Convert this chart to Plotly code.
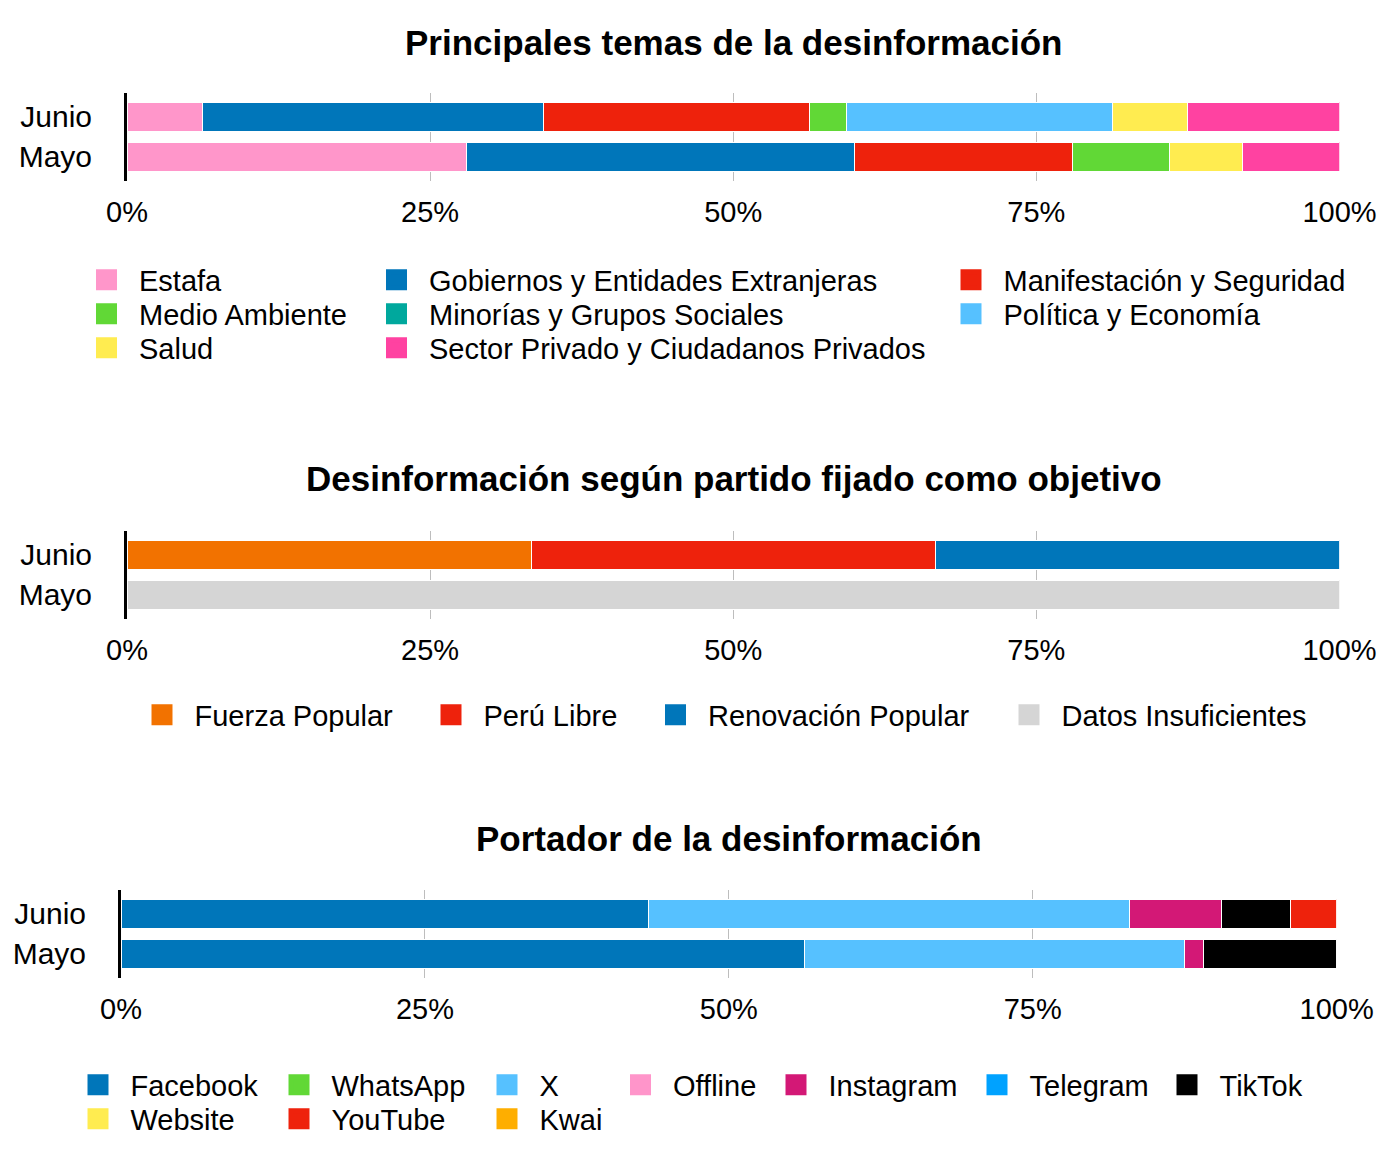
import plotly.graph_objects as go

FIG_WIDTH = 1400
FIG_HEIGHT = 1156
FONT = "Helvetica Neue, Helvetica, Arial, Liberation Sans, sans-serif"

months = ["Junio", "Mayo"]
tick_values = [0, 25, 50, 75, 100]
tick_labels = ["0%", "25%", "50%", "75%", "100%"]

# Principales temas de la desinformación (% de casos)
temas = [
    "Estafa",
    "Gobiernos y Entidades Extranjeras",
    "Manifestación y Seguridad",
    "Medio Ambiente",
    "Minorías y Grupos Sociales",
    "Política y Economía",
    "Salud",
    "Sector Privado y Ciudadanos Privados",
]
temas_junio = [6.25, 28.13, 21.88, 3.12, 0, 21.87, 6.25, 12.5]
temas_mayo = [28, 32, 18, 8, 0, 0, 6, 8]
temas_colors = ["#FF96CA", "#0076BA", "#EE220C", "#61D836", "#00A89D", "#56C1FF", "#FFEC50", "#FF42A1"]

# Desinformación según partido fijado como objetivo (%)
partidos = ["Fuerza Popular", "Perú Libre", "Renovación Popular", "Datos Insuficientes"]
partidos_junio = [33.33, 33.33, 33.34, 0]
partidos_mayo = [0, 0, 0, 100]
partidos_colors = ["#F27200", "#EE220C", "#0076BA", "#D5D5D5"]

# Portador de la desinformación (%)
portadores = ["Facebook", "WhatsApp", "X", "Offline", "Instagram", "Telegram", "TikTok", "Website", "YouTube", "Kwai"]
portadores_junio = [43.4, 0, 39.6, 0, 7.5, 0, 5.7, 0, 3.8, 0]
portadores_mayo = [56.25, 0, 31.25, 0, 1.56, 0, 10.94, 0, 0, 0]
portadores_colors = ["#0076BA", "#61D836", "#56C1FF", "#FF95CA", "#D31876", "#00A2FF", "#000000", "#FFEC50", "#EE220C", "#FEAE00"]


def px_x(x):
    return x / FIG_WIDTH


def px_y(y):
    return 1 - y / FIG_HEIGHT


# pixel layout of each panel: x range of plot, y range of plot, title row, legend swatch centres
panels = [
    dict(
        title="Principales temas de la desinformación",
        names=temas, junio=temas_junio, mayo=temas_mayo, colors=temas_colors,
        x=(127, 1339.5), y=(93, 181), title_y=42, title_x=733.5,
        slots=[(106.5, 280), (396.5, 280), (971, 280),
               (106.5, 314), (396.5, 314), (971, 314),
               (106.5, 348), (396.5, 348)],
    ),
    dict(
        title="Desinformación según partido fijado como objetivo",
        names=partidos, junio=partidos_junio, mayo=partidos_mayo, colors=partidos_colors,
        x=(127, 1339.5), y=(531, 619), title_y=478, title_x=733.5,
        slots=[(162, 715), (451, 715), (675.5, 715), (1029, 715)],
    ),
    dict(
        title="Portador de la desinformación",
        names=portadores, junio=portadores_junio, mayo=portadores_mayo, colors=portadores_colors,
        x=(121, 1336.6), y=(890, 978), title_y=838, title_x=729.5,
        slots=[(98, 1085), (299, 1085), (507, 1085), (640.5, 1085), (796, 1085),
               (997, 1085), (1187, 1085), (98, 1119), (299, 1119), (507, 1119)],
    ),
]

fig = go.Figure()
layout = {}
annotations = []
legend_count = 0

for i, panel in enumerate(panels, start=1):
    suffix = "" if i == 1 else str(i)
    xref, yref = f"x{suffix}", f"y{suffix}"

    for name, jun, may, color in zip(panel["names"], panel["junio"], panel["mayo"], panel["colors"]):
        fig.add_trace(
            go.Bar(
                y=months,
                x=[jun, may],
                orientation="h",
                name=name,
                legendgroup=name,
                showlegend=False,
                marker=dict(color=color, line=dict(color="white", width=1)),
                xaxis=xref,
                yaxis=yref,
            )
        )

    # one small legend per entry so the columns sit like in the original
    for (name, color), (cx, cy) in zip(zip(panel["names"], panel["colors"]), panel["slots"]):
        legend_count += 1
        legend_id = "legend" if legend_count == 1 else f"legend{legend_count}"
        fig.add_trace(
            go.Scatter(
                x=[None],
                y=[None],
                mode="markers",
                name=name,
                legendgroup=name,
                legend=legend_id,
                marker=dict(symbol="square", size=16, color=color, line=dict(color=color, width=5)),
                xaxis=xref,
                yaxis=yref,
                hoverinfo="skip",
            )
        )
        layout[legend_id] = dict(
            x=px_x(cx - 32.5),
            y=px_y(cy),
            xanchor="left",
            yanchor="middle",
            orientation="v",
            itemwidth=55,
            borderwidth=0,
            bgcolor="rgba(0,0,0,0)",
            font=dict(family=FONT, size=29, color="black"),
        )

    layout[f"xaxis{suffix}"] = dict(
        domain=[px_x(panel["x"][0]), px_x(panel["x"][1])],
        anchor=yref,
        range=[0, 100],
        tickvals=tick_values,
        ticktext=tick_labels,
        showgrid=True,
        gridcolor="#BDBDBD",
        gridwidth=1,
        zeroline=False,
        showline=False,
        ticks="",
        ticklabelstandoff=11,
        tickfont=dict(family=FONT, size=29, color="black"),
        automargin=False,
        fixedrange=True,
    )
    layout[f"yaxis{suffix}"] = dict(
        domain=[px_y(panel["y"][1]), px_y(panel["y"][0])],
        anchor=xref,
        type="category",
        categoryorder="array",
        categoryarray=["Mayo", "Junio"],
        range=[-0.61, 1.59],
        showline=True,
        linecolor="black",
        linewidth=3,
        showgrid=False,
        zeroline=False,
        ticks="",
        ticklabelstandoff=26,
        tickfont=dict(family=FONT, size=30, color="black"),
        automargin=False,
        fixedrange=True,
    )
    annotations.append(
        dict(
            text=f"<b>{panel['title']}</b>",
            xref="paper",
            yref="paper",
            x=px_x(panel["title_x"]),
            y=px_y(panel["title_y"]),
            xanchor="center",
            yanchor="middle",
            showarrow=False,
            font=dict(family=FONT, size=35, color="black"),
        )
    )

fig.update_layout(
    width=FIG_WIDTH,
    height=FIG_HEIGHT,
    barmode="stack",
    barnorm="percent",
    bargap=0.275,
    margin=dict(l=0, r=0, t=0, b=0, autoexpand=False),
    paper_bgcolor="white",
    plot_bgcolor="white",
    font=dict(family=FONT, color="black"),
    annotations=annotations,
    showlegend=True,
    **layout,
)

# drop the default page margin so the figure sits at the window's corner
fig.write_html(
    "out.html",
    config={"displayModeBar": False},
    post_script="document.body.style.margin = '0'; document.body.style.overflow = 'hidden';",
)
